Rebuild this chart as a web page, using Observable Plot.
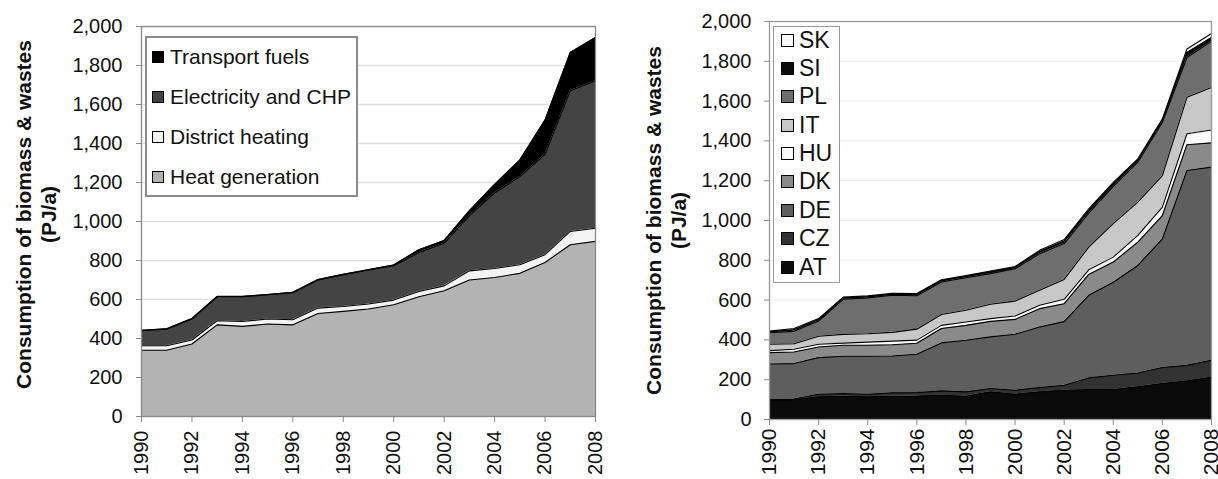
<!DOCTYPE html>
<html>
<head>
<meta charset="utf-8">
<script src="https://cdn.jsdelivr.net/npm/d3@7"></script>
<script src="https://cdn.jsdelivr.net/npm/@observablehq/plot@0.6"></script>
<style>
  html, body { margin: 0; padding: 0; background: #fff; }
  #page { position: relative; width: 1218px; height: 479px; overflow: hidden;
          font-family: "Liberation Sans", Arial, Helvetica, sans-serif; }
  .panel { position: absolute; top: 0; }
  .legend { position: absolute; background: #fff; box-sizing: border-box; }
  .legend .row { position: absolute; display: flex; align-items: center; white-space: nowrap; color: #111; }
  .legend .sw { box-sizing: border-box; border: 1px solid #000; flex: none; }
</style>
</head>
<body>
<div id="page"></div>
<script>
// Years on the horizontal axis
const years = [1990, 1991, 1992, 1993, 1994, 1995, 1996, 1997, 1998, 1999,
               2000, 2001, 2002, 2003, 2004, 2005, 2006, 2007, 2008];
const yearTicks = [1990, 1992, 1994, 1996, 1998, 2000, 2002, 2004, 2006, 2008];
const valueTicks = [0, 200, 400, 600, 800, 1000, 1200, 1400, 1600, 1800, 2000];
const yTitle = "Consumption of biomass & wastes\n(PJ/a)";

// Consumption by end use (PJ/a), bottom to top of the stack
const sectorNames = ["Heat generation", "District heating", "Electricity and CHP", "Transport fuels"];
const heatGeneration = [340, 340, 372, 470, 462, 474, 470, 528, 539, 551, 573, 614, 645, 700, 713, 734, 790, 881, 898];
const districtHeating = [23, 23, 20, 21, 25, 26, 26, 28, 25, 26, 24, 27, 25, 47, 46, 44, 40, 68, 67];
const electricityCHP = [77, 85, 108, 123, 127, 124, 139, 144, 163, 174, 176, 200, 218, 283, 387, 452, 514, 722, 757];
const transportFuels = [2, 2, 2, 2, 2, 2, 2, 2, 2, 2, 4, 14, 15, 25, 44, 85, 176, 196, 222];
const sectorColors = ["#b3b3b3", "#f3f3f3", "#444444", "#000000"];

// Consumption by country (PJ/a), bottom to top of the stack
const countryNames = ["AT", "CZ", "DE", "DK", "HU", "IT", "PL", "SI", "SK"];
const AT = [97, 100, 114, 117, 114, 117, 118, 122, 117, 139, 127, 139, 147, 150, 151, 164, 181, 194, 212];
const CZ = [2, 3, 13, 13, 13, 17, 17, 22, 22, 17, 20, 21, 25, 59, 71, 70, 80, 78, 86];
const DE = [180, 178, 184, 188, 191, 185, 193, 241, 259, 259, 281, 305, 320, 415, 468, 540, 647, 979, 970];
const DK = [57, 58, 53, 55, 55, 57, 55, 72, 75, 78, 75, 92, 90, 105, 101, 117, 117, 130, 122];
const HU = [10, 14, 14, 11, 16, 18, 16, 16, 17, 14, 17, 17, 22, 23, 25, 34, 42, 55, 65];
const IT = [32, 28, 40, 44, 42, 44, 55, 55, 59, 72, 75, 75, 100, 114, 168, 167, 159, 183, 213];
const PL = [58, 62, 77, 176, 180, 186, 168, 163, 163, 154, 163, 184, 180, 171, 187, 201, 268, 200, 232];
const SI = [5, 8, 7, 7, 6, 6, 7, 7, 8, 9, 7, 11, 13, 14, 13, 11, 11, 25, 20];
const SK = [3, 6, 5, 4, 4, 4, 4, 4, 4, 4, 4, 6, 7, 8, 8, 6, 6, 18, 20];
const countryColors = ["#0b0b0b", "#323232", "#5e5e5e", "#8a8a8a", "#fbfbfb", "#c7c7c7", "#6e6e6e", "#0b0b0b", "#f8f8f8"];

const FONT = '"Liberation Sans", Arial, Helvetica, sans-serif';

function toRows(names, series) {
  return names.flatMap((name, i) => years.map((year, j) => ({year, series: name, value: series[i][j]})));
}

function stackedPanel(o) {
  return Plot.plot({
    width: o.width,
    height: o.height,
    marginLeft: o.marginLeft,
    marginRight: o.marginRight,
    marginTop: o.marginTop,
    marginBottom: o.marginBottom,
    style: {fontFamily: FONT, fontSize: o.yFont + "px", color: "#111", background: "transparent", overflow: "visible"},
    x: {domain: [1990, 2008]},
    y: {domain: [0, 2000]},
    color: {domain: o.names, range: o.colors},
    marks: [
      Plot.gridY(valueTicks, {stroke: o.gridColor, strokeOpacity: 1, strokeWidth: o.gridWidth}),
      Plot.areaY(o.data, {x: "year", y: "value", z: "series", fill: "series", order: o.names}),
      Plot.lineY(o.data, Plot.stackY2({x: "year", y: "value", z: "series", order: o.names,
        stroke: "#000", strokeWidth: 1.1})),
      Plot.ruleY([0], {stroke: "#222", strokeWidth: 1.2}),
      Plot.frame({stroke: o.frameColor, strokeWidth: 1.3}),
      Plot.axisY(valueTicks, {tickFormat: d3.format(",d"), tickSize: 5, tickPadding: o.yPad, stroke: "#888",
        fill: "#111", fontSize: o.yFont, label: null}),
      Plot.axisX(yearTicks, {tickFormat: "d", tickRotate: -90, tickSize: 6, tickPadding: o.xPad,
        stroke: "#888", fill: "#111", fontSize: o.xFont, label: null}),
      Plot.text([yTitle], {text: d => d, frameAnchor: "left", textAnchor: "middle", lineAnchor: "middle",
        rotate: -90, dx: o.titleDx, dy: o.titleDy,
        fontWeight: "bold", fontSize: 21, lineHeight: 1.2, fill: "#111"})
    ]
  });
}

function addLegend(page, o) {
  const box = document.createElement("div");
  box.className = "legend";
  Object.assign(box.style, {left: o.left + "px", top: o.top + "px", width: o.width + "px",
    height: o.height + "px", border: o.border});
  o.items.forEach((item, i) => {
    const row = document.createElement("div");
    row.className = "row";
    const h = o.fontSize * 1.2;
    Object.assign(row.style, {left: o.swLeft + "px", top: (o.first + i * o.step - h / 2) + "px",
      height: h + "px", fontSize: o.fontSize + "px"});
    const sw = document.createElement("div");
    sw.className = "sw";
    Object.assign(sw.style, {width: o.sw + "px", height: o.sw + "px", background: item.color,
      marginRight: o.gap + "px"});
    const label = document.createElement("span");
    label.textContent = item.name;
    row.append(sw, label);
    box.append(row);
  });
  page.append(box);
}

const page = document.getElementById("page");

// Left: by end use
const left = stackedPanel({
  data: toRows(sectorNames, [heatGeneration, districtHeating, electricityCHP, transportFuels]),
  names: sectorNames, colors: sectorColors,
  width: 610, height: 479, marginLeft: 141, marginRight: 15, marginTop: 26, marginBottom: 63,
  yFont: 20, xFont: 20, yPad: 14, xPad: 8, gridColor: "#dedede", gridWidth: 1.6, frameColor: "#8a8a8a",
  titleDx: -106, titleDy: -7
});
left.classList.add("panel");
left.style.left = "0px";
page.append(left);

// Right: by country
const right = stackedPanel({
  data: toRows(countryNames, [AT, CZ, DE, DK, HU, IT, PL, SI, SK]),
  names: countryNames, colors: countryColors,
  width: 608, height: 479, marginLeft: 159, marginRight: 7, marginTop: 21, marginBottom: 60,
  yFont: 20, xFont: 21, yPad: 13, xPad: 3, gridColor: "#ececec", gridWidth: 1, frameColor: "#9a9a9a",
  titleDx: -104, titleDy: 0
});
right.classList.add("panel");
right.style.left = "610px";
page.append(right);

addLegend(page, {
  left: 145, top: 36, width: 213, height: 161, border: "2px solid #8a8a8a",
  swLeft: 5, sw: 12, gap: 6, fontSize: 21, first: 19, step: 40,
  items: sectorNames.map((name, i) => ({name, color: sectorColors[i]})).reverse()
});

addLegend(page, {
  left: 773, top: 26, width: 67, height: 257, border: "1.5px solid #999",
  swLeft: 7, sw: 13, gap: 5, fontSize: 23, first: 13, step: 28.4,
  items: countryNames.map((name, i) => ({name, color: countryColors[i]})).reverse()
});
</script>
</body>
</html>
